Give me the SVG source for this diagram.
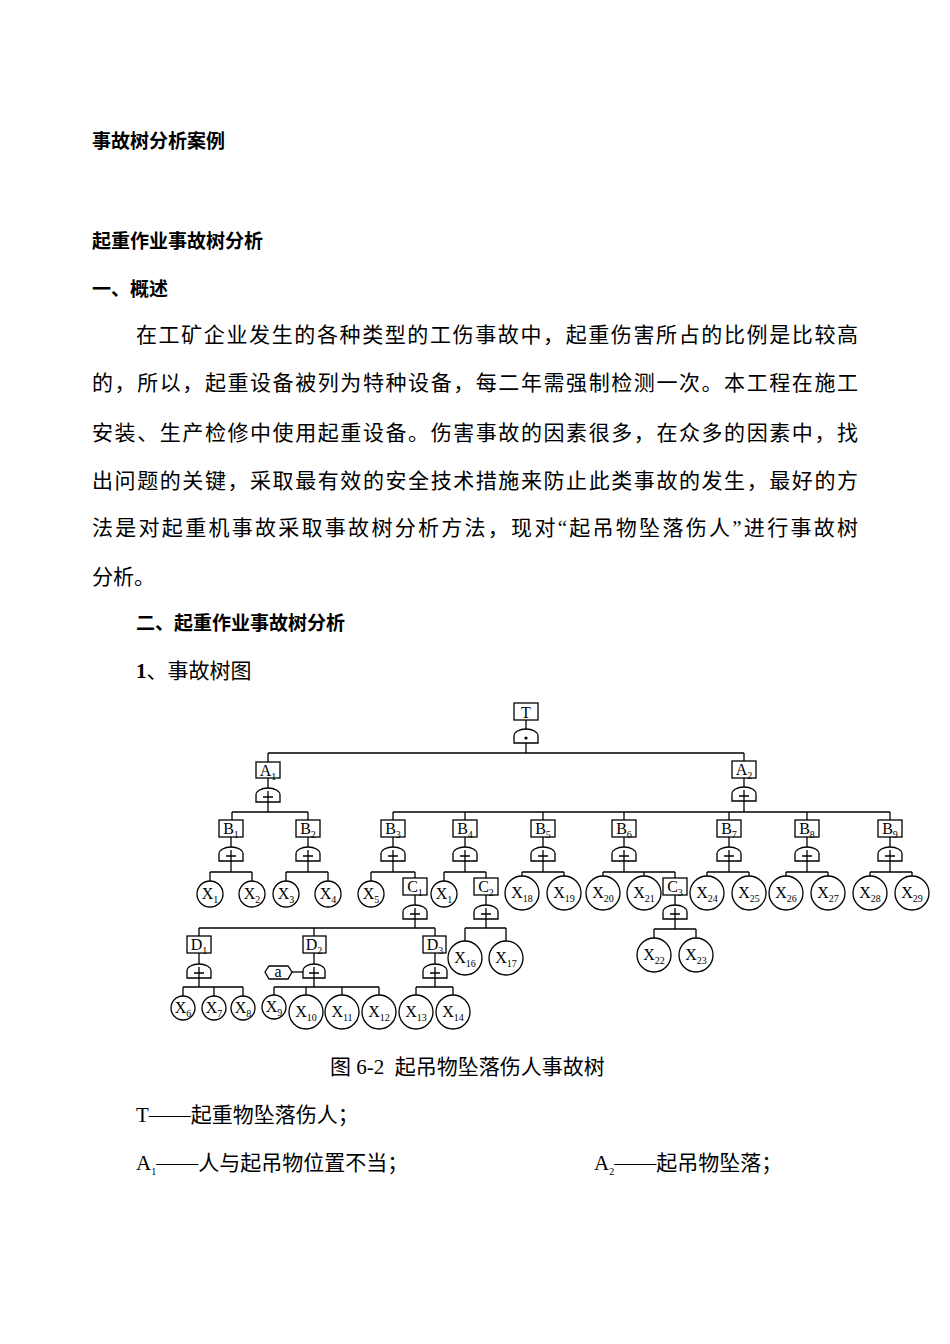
<svg xmlns="http://www.w3.org/2000/svg" width="950" height="1344" viewBox="0 0 950 1344">
<style>
.h{font-family:"Noto Sans CJK SC","Liberation Sans",sans-serif;font-size:19px;font-weight:bold;fill:#000}
.b{font-family:"Liberation Serif","Noto Sans CJK SC",serif;font-size:21px;fill:#000}
.n{font-family:"Liberation Serif",serif;font-size:16px;fill:#000;text-anchor:middle}
.s{font-size:10px}
.bx{fill:#fff;stroke:#000;stroke-width:1.3}
.g{fill:#fff;stroke:#000;stroke-width:1.3}
.c{fill:#fff;stroke:#000;stroke-width:1.3}
.l{stroke:#000;stroke-width:1.3;fill:none}
</style>
<rect width="950" height="1344" fill="#fff"/>
<text class="h" x="92" y="148">事故树分析案例</text>
<text class="h" x="92" y="248">起重作业事故树分析</text>
<text class="h" x="92" y="296">一、概述</text>
<text class="b" x="136" y="342" textLength="722" lengthAdjust="spacing">在工矿企业发生的各种类型的工伤事故中，起重伤害所占的比例是比较高</text>
<text class="b" x="92" y="390" textLength="766" lengthAdjust="spacing">的，所以，起重设备被列为特种设备，每二年需强制检测一次。本工程在施工</text>
<text class="b" x="92" y="440" textLength="766" lengthAdjust="spacing">安装、生产检修中使用起重设备。伤害事故的因素很多，在众多的因素中，找</text>
<text class="b" x="92" y="488" textLength="766" lengthAdjust="spacing">出问题的关键，采取最有效的安全技术措施来防止此类事故的发生，最好的方</text>
<text class="b" x="92" y="535" textLength="766" lengthAdjust="spacing">法是对起重机事故采取事故树分析方法，现对“起吊物坠落伤人”进行事故树</text>
<text class="b" x="92" y="584">分析。</text>
<text class="h" x="136" y="630">二、起重作业事故树分析</text>
<text class="b" x="136" y="678"><tspan font-weight="bold">1</tspan>、事故树图</text>
<text class="b" x="330" y="1074" font-size="19" xml:space="preserve">图 6-2  起吊物坠落伤人事故树</text>
<text class="b" x="136" y="1122">T——起重物坠落伤人；</text>
<text class="b" x="136" y="1170">A<tspan class="s" dy="5">1</tspan><tspan dy="-5">——人与起吊物位置不当；</tspan></text>
<text class="b" x="594" y="1170">A<tspan class="s" dy="5">2</tspan><tspan dy="-5">——起吊物坠落；</tspan></text>

<g id="connectors">
<path class="l" d="M526 720V730M526 743V753M268 753H744M268 753V762M744 753V761"/>
<path class="l" d="M268 778V788M268 802V812M232 812H308M232 812V820M308 812V820"/>
<path class="l" d="M744 778V787M744 801V812M393 812H890M393 812V820M465 812V820M543 812V820M624 812V820M729 812V820M807 812V820M890 812V820"/>
<path class="l" d="M231 837V847M308 837V847M393 837V847M465 837V847M543 837V847M624 837V847M729 837V847M807 837V847M890 837V847"/>
<path class="l" d="M231 861V872M210 872H252M210 872V881M252 872V881"/>
<path class="l" d="M308 861V872M286 872H328M286 872V881M328 872V881"/>
<path class="l" d="M393 861V872M371 872H415M371 872V881M415 872V878"/>
<path class="l" d="M465 861V872M444 872H486M444 872V881M486 872V878"/>
<path class="l" d="M543 861V872M522 872H564M522 872V876M564 872V876"/>
<path class="l" d="M624 861V872M603 872H675M603 872V876M644 872V876M675 872V878"/>
<path class="l" d="M729 861V872M707 872H749M707 872V876M749 872V876"/>
<path class="l" d="M807 861V872M786 872H828M786 872V876M828 872V876"/>
<path class="l" d="M890 861V872M870 872H912M870 872V876M912 872V876"/>
<path class="l" d="M415 895V905M415 919V928M199 928H435M199 928V936M314 928V936M435 928V936"/>
<path class="l" d="M486 895V905M486 919V928M465 928H506M465 928V941M506 928V941"/>
<path class="l" d="M675 895V905M675 919V929M654 929H696M654 929V938M696 929V938"/>
<path class="l" d="M199 953V964M314 953V964M435 953V964"/>
<path class="l" d="M199 978V987M183 987H243M183 987V996M214 987V996M243 987V996"/>
<path class="l" d="M314 978V987M274 987H379M274 987V995M306 987V995M342 987V995M379 987V995"/>
<path class="l" d="M435 978V987M416 987H453M416 987V995M453 987V995"/>
<path class="l" d="M292 972H303" stroke-width="2"/>
</g>

<g id="T"><rect class="bx" x="514" y="703" width="24" height="17"/><text class="n" x="526" y="718">T</text></g>
<g id="G_T"><path class="g" d="M514 743V736A12 7 0 0 1 538 736V743Z"/><circle cx="526" cy="738" r="1.6"/></g>

<g id="A1"><rect class="bx" x="256" y="762" width="24" height="16"/><text class="n" x="268" y="776">A<tspan class="s" dy="4">1</tspan></text></g>
<g id="A2"><rect class="bx" x="732" y="761" width="24" height="17"/><text class="n" x="744" y="775">A<tspan class="s" dy="4">2</tspan></text></g>

<g id="gates">
<path class="g" d="M256 802V795A12 7 0 0 1 280 795V802Z"/><path class="l" d="M263 797H273M268 791V802"/>
<path class="g" d="M732 801V794A12 7 0 0 1 756 794V801Z"/><path class="l" d="M739 796H749M744 790V801"/>
<path class="g" d="M219 861V854A12 7 0 0 1 243 854V861Z"/><path class="l" d="M226 856H236M231 850V861"/>
<path class="g" d="M296 861V854A12 7 0 0 1 320 854V861Z"/><path class="l" d="M303 856H313M308 850V861"/>
<path class="g" d="M381 861V854A12 7 0 0 1 405 854V861Z"/><path class="l" d="M388 856H398M393 850V861"/>
<path class="g" d="M453 861V854A12 7 0 0 1 477 854V861Z"/><path class="l" d="M460 856H470M465 850V861"/>
<path class="g" d="M531 861V854A12 7 0 0 1 555 854V861Z"/><path class="l" d="M538 856H548M543 850V861"/>
<path class="g" d="M612 861V854A12 7 0 0 1 636 854V861Z"/><path class="l" d="M619 856H629M624 850V861"/>
<path class="g" d="M717 861V854A12 7 0 0 1 741 854V861Z"/><path class="l" d="M724 856H734M729 850V861"/>
<path class="g" d="M795 861V854A12 7 0 0 1 819 854V861Z"/><path class="l" d="M802 856H812M807 850V861"/>
<path class="g" d="M878 861V854A12 7 0 0 1 902 854V861Z"/><path class="l" d="M885 856H895M890 850V861"/>
<path class="g" d="M403 919V912A12 7 0 0 1 427 912V919Z"/><path class="l" d="M410 914H420M415 908V919"/>
<path class="g" d="M474 919V912A12 7 0 0 1 498 912V919Z"/><path class="l" d="M481 914H491M486 908V919"/>
<path class="g" d="M663 919V912A12 7 0 0 1 687 912V919Z"/><path class="l" d="M670 914H680M675 908V919"/>
<path class="g" d="M187 978V971A12 7 0 0 1 211 971V978Z"/><path class="l" d="M194 973H204M199 967V978"/>
<path class="g" d="M303 978V971A11 7 0 0 1 325 971V978Z"/><path class="l" d="M309 973H319M314 967V978"/>
<path class="g" d="M423 978V971A12 7 0 0 1 447 971V978Z"/><path class="l" d="M430 973H440M435 967V978"/>
</g>

<g id="B1"><rect class="bx" x="219" y="820" width="24" height="17"/><text class="n" x="231" y="834">B<tspan class="s" dy="4">1</tspan></text></g>
<g id="B2"><rect class="bx" x="296" y="820" width="24" height="17"/><text class="n" x="308" y="834">B<tspan class="s" dy="4">2</tspan></text></g>
<g id="B3"><rect class="bx" x="381" y="820" width="24" height="17"/><text class="n" x="393" y="834">B<tspan class="s" dy="4">3</tspan></text></g>
<g id="B4"><rect class="bx" x="453" y="820" width="24" height="17"/><text class="n" x="465" y="834">B<tspan class="s" dy="4">4</tspan></text></g>
<g id="B5"><rect class="bx" x="531" y="820" width="24" height="17"/><text class="n" x="543" y="834">B<tspan class="s" dy="4">5</tspan></text></g>
<g id="B6"><rect class="bx" x="612" y="820" width="24" height="17"/><text class="n" x="624" y="834">B<tspan class="s" dy="4">6</tspan></text></g>
<g id="B7"><rect class="bx" x="717" y="820" width="24" height="17"/><text class="n" x="729" y="834">B<tspan class="s" dy="4">7</tspan></text></g>
<g id="B8"><rect class="bx" x="795" y="820" width="24" height="17"/><text class="n" x="807" y="834">B<tspan class="s" dy="4">8</tspan></text></g>
<g id="B9"><rect class="bx" x="878" y="820" width="24" height="17"/><text class="n" x="890" y="834">B<tspan class="s" dy="4">9</tspan></text></g>

<g id="C1"><rect class="bx" x="403" y="878" width="24" height="17"/><text class="n" x="415" y="892">C<tspan class="s" dy="4">1</tspan></text></g>
<g id="C2"><rect class="bx" x="474" y="878" width="24" height="17"/><text class="n" x="486" y="892">C<tspan class="s" dy="4">2</tspan></text></g>
<g id="C3"><rect class="bx" x="663" y="878" width="24" height="17"/><text class="n" x="675" y="892">C<tspan class="s" dy="4">3</tspan></text></g>
<g id="D1"><rect class="bx" x="187" y="936" width="24" height="17"/><text class="n" x="199" y="950">D<tspan class="s" dy="4">1</tspan></text></g>
<g id="D2"><rect class="bx" x="303" y="936" width="23" height="17"/><text class="n" x="314" y="950">D<tspan class="s" dy="4">2</tspan></text></g>
<g id="D3"><rect class="bx" x="423" y="936" width="23" height="17"/><text class="n" x="435" y="950">D<tspan class="s" dy="4">3</tspan></text></g>
<g id="a"><path class="bx" d="M265 972L269 966H288L292 972L288 979H269Z"/><text class="n" x="278" y="977" font-size="14">a</text></g>

<g id="X1a"><circle class="c" cx="210" cy="894" r="13"/><text class="n" x="210" y="899">X<tspan class="s" dy="4">1</tspan></text></g>
<g id="X2"><circle class="c" cx="252" cy="894" r="13"/><text class="n" x="252" y="899">X<tspan class="s" dy="4">2</tspan></text></g>
<g id="X3"><circle class="c" cx="286" cy="894" r="13"/><text class="n" x="286" y="899">X<tspan class="s" dy="4">3</tspan></text></g>
<g id="X4"><circle class="c" cx="328" cy="894" r="13"/><text class="n" x="328" y="899">X<tspan class="s" dy="4">4</tspan></text></g>
<g id="X5"><circle class="c" cx="371" cy="894" r="13"/><text class="n" x="371" y="899">X<tspan class="s" dy="4">5</tspan></text></g>
<g id="X1b"><circle class="c" cx="444" cy="894" r="13"/><text class="n" x="444" y="899">X<tspan class="s" dy="4">1</tspan></text></g>
<g id="X18"><circle class="c" cx="522" cy="893" r="17"/><text class="n" x="522" y="898">X<tspan class="s" dy="4">18</tspan></text></g>
<g id="X19"><circle class="c" cx="564" cy="893" r="17"/><text class="n" x="564" y="898">X<tspan class="s" dy="4">19</tspan></text></g>
<g id="X20"><circle class="c" cx="603" cy="893" r="17"/><text class="n" x="603" y="898">X<tspan class="s" dy="4">20</tspan></text></g>
<g id="X21"><circle class="c" cx="644" cy="893" r="17"/><text class="n" x="644" y="898">X<tspan class="s" dy="4">21</tspan></text></g>
<g id="X24"><circle class="c" cx="707" cy="893" r="17"/><text class="n" x="707" y="898">X<tspan class="s" dy="4">24</tspan></text></g>
<g id="X25"><circle class="c" cx="749" cy="893" r="17"/><text class="n" x="749" y="898">X<tspan class="s" dy="4">25</tspan></text></g>
<g id="X26"><circle class="c" cx="786" cy="893" r="17"/><text class="n" x="786" y="898">X<tspan class="s" dy="4">26</tspan></text></g>
<g id="X27"><circle class="c" cx="828" cy="893" r="17"/><text class="n" x="828" y="898">X<tspan class="s" dy="4">27</tspan></text></g>
<g id="X28"><circle class="c" cx="870" cy="893" r="17"/><text class="n" x="870" y="898">X<tspan class="s" dy="4">28</tspan></text></g>
<g id="X29"><circle class="c" cx="912" cy="893" r="17"/><text class="n" x="912" y="898">X<tspan class="s" dy="4">29</tspan></text></g>
<g id="X16"><circle class="c" cx="465" cy="958" r="17"/><text class="n" x="465" y="963">X<tspan class="s" dy="4">16</tspan></text></g>
<g id="X17"><circle class="c" cx="506" cy="958" r="17"/><text class="n" x="506" y="963">X<tspan class="s" dy="4">17</tspan></text></g>
<g id="X22"><circle class="c" cx="654" cy="955" r="17"/><text class="n" x="654" y="960">X<tspan class="s" dy="4">22</tspan></text></g>
<g id="X23"><circle class="c" cx="696" cy="955" r="17"/><text class="n" x="696" y="960">X<tspan class="s" dy="4">23</tspan></text></g>
<g id="X6"><circle class="c" cx="183" cy="1008" r="12"/><text class="n" x="183" y="1013">X<tspan class="s" dy="4">6</tspan></text></g>
<g id="X7"><circle class="c" cx="214" cy="1008" r="12"/><text class="n" x="214" y="1013">X<tspan class="s" dy="4">7</tspan></text></g>
<g id="X8"><circle class="c" cx="243" cy="1008" r="12"/><text class="n" x="243" y="1013">X<tspan class="s" dy="4">8</tspan></text></g>
<g id="X9"><circle class="c" cx="274" cy="1007" r="12"/><text class="n" x="274" y="1012">X<tspan class="s" dy="4">9</tspan></text></g>
<g id="X10"><circle class="c" cx="306" cy="1012" r="17"/><text class="n" x="306" y="1017">X<tspan class="s" dy="4">10</tspan></text></g>
<g id="X11"><circle class="c" cx="342" cy="1012" r="17"/><text class="n" x="342" y="1017">X<tspan class="s" dy="4">11</tspan></text></g>
<g id="X12"><circle class="c" cx="379" cy="1012" r="17"/><text class="n" x="379" y="1017">X<tspan class="s" dy="4">12</tspan></text></g>
<g id="X13"><circle class="c" cx="416" cy="1012" r="17"/><text class="n" x="416" y="1017">X<tspan class="s" dy="4">13</tspan></text></g>
<g id="X14"><circle class="c" cx="453" cy="1012" r="17"/><text class="n" x="453" y="1017">X<tspan class="s" dy="4">14</tspan></text></g>
</svg>
